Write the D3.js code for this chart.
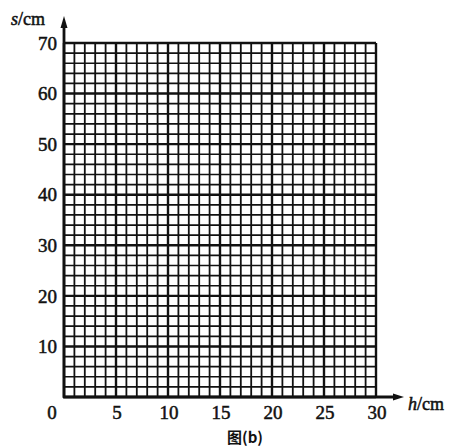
<!DOCTYPE html>
<html><head><meta charset="utf-8">
<script src="https://cdn.jsdelivr.net/npm/d3@7"></script>
<style>
html,body{margin:0;padding:0;background:#fff;}
svg{display:block;}
</style></head>
<body>
<svg id="chart" width="465" height="447"></svg>
<script>
// Axis domains and tick labels
const xDomain = [0, 30];
const yDomain = [0, 70];
const xTickLabels = [5, 10, 15, 20, 25, 30];
const yTickLabels = [10, 20, 30, 40, 50, 60, 70];
const xGridStep = 1;   // cm per vertical grid line
const yGridStep = 2;   // cm per horizontal grid line
const xMajorStep = 5;
const yMajorStep = 10;
const xLabel = "h";
const yLabel = "s";
const unit = "/cm";
const caption = "图(b)";

const svg = d3.select("#chart");
const plotL = 64, plotR = 376, plotT = 43, plotB = 397;
const x = d3.scaleLinear().domain(xDomain).range([plotL, plotR]);
const y = d3.scaleLinear().domain(yDomain).range([plotB, plotT]);

const ink = "#111";
const g = svg.append("g");

const xs = d3.range(xDomain[0], xDomain[1] + 0.001, xGridStep);
const ys = d3.range(yDomain[0], yDomain[1] + 0.001, yGridStep);

g.selectAll("line.v").data(xs).join("line")
  .attr("x1", d => x(d)).attr("x2", d => x(d))
  .attr("y1", y(yDomain[0])).attr("y2", y(yDomain[1]))
  .attr("stroke", ink)
  .attr("stroke-width", d => d % xMajorStep === 0 ? 2.4 : 1.8);

g.selectAll("line.h").data(ys).join("line")
  .attr("y1", d => y(d)).attr("y2", d => y(d))
  .attr("x1", x(xDomain[0])).attr("x2", x(xDomain[1]))
  .attr("stroke", ink)
  .attr("stroke-width", d => d % yMajorStep === 0 ? 2.4 : 1.7);

// Axes with arrows
svg.append("line").attr("x1", x(0)).attr("x2", x(0)).attr("y1", plotB + 1).attr("y2", 24)
  .attr("stroke", ink).attr("stroke-width", 2.8);
svg.append("path").attr("d", `M${x(0)},16 L${x(0)-3.5},28 L${x(0)+3.5},28 Z`).attr("fill", ink);
svg.append("line").attr("x1", x(0) - 1).attr("x2", 396).attr("y1", y(0)).attr("y2", y(0))
  .attr("stroke", ink).attr("stroke-width", 2.8);
svg.append("path").attr("d", `M404,${y(0)} L393,${y(0)-3.5} L393,${y(0)+3.5} Z`).attr("fill", ink);

const font = "'Liberation Serif','Times New Roman',serif";
function heavy(sel) {
  return sel.attr("fill", ink).attr("stroke", ink).attr("stroke-width", 0.5);
}

// y tick labels
heavy(svg.selectAll("text.yt").data(yTickLabels).join("text")
  .attr("x", 57).attr("y", d => y(d)).attr("dy", "0.35em")
  .attr("text-anchor", "end").attr("font-family", font).attr("font-size", 19)
  .text(d => d));

// x tick labels
heavy(svg.selectAll("text.xt").data(xTickLabels).join("text")
  .attr("x", d => x(d) + 1).attr("y", 419)
  .attr("text-anchor", "middle").attr("font-family", font).attr("font-size", 19)
  .text(d => d));
heavy(svg.append("text").attr("x", 52).attr("y", 419).attr("text-anchor", "middle")
  .attr("font-family", font).attr("font-size", 19).text(xDomain[0]));

// axis titles
const yt = heavy(svg.append("text").attr("x", 11).attr("y", 25)
  .attr("font-family", font).attr("font-size", 18));
yt.append("tspan").attr("font-style", "italic").text(yLabel);
yt.append("tspan").text(unit);

const xt = heavy(svg.append("text").attr("x", 408).attr("y", 410)
  .attr("font-family", font).attr("font-size", 18));
xt.append("tspan").attr("font-style", "italic").text(xLabel);
xt.append("tspan").text(unit);

svg.append("text").attr("x", 245).attr("y", 443).attr("text-anchor", "middle")
  .attr("font-family", "'Noto Sans CJK SC','Liberation Serif',serif").attr("font-size", 15)
  .attr("font-weight", "bold").attr("fill", ink).text(caption);
</script>
</body></html>
